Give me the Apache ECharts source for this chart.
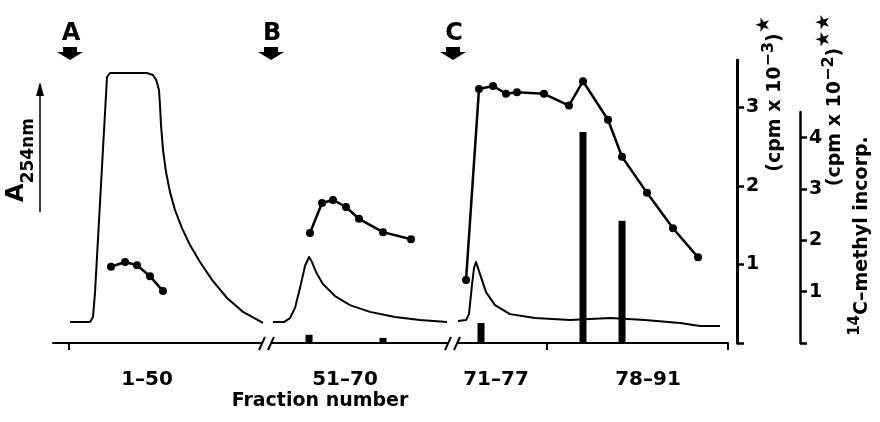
<!DOCTYPE html>
<html>
<head>
<meta charset="utf-8">
<script src="https://cdn.jsdelivr.net/npm/echarts@6/dist/echarts.min.js"></script>
<style>
   html, body { margin: 0; padding: 0; background: #fff; }
   #chart { width: 880px; height: 422px; }
</style>
</head>
<body>
<div id="chart"></div>
<script>

// x is the position along the drawn fraction axis (0..100, axis broken twice)
// A254 trace, relative absorbance (null = gap at an axis break)
const tracePos = [
   2.52, 5.48, 5.93, 6.22, 8.0, 8.44, 13.9, 14.8, 15.3, 15.70, 15.85, 16.0,
   16.30, 16.74, 17.33, 18.07, 19.11, 20.30, 21.78, 23.56, 25.78, 28.15, 31.11,
   31.7,
   32.59, 34.22, 35.11, 35.85, 36.59, 37.33, 37.93, 38.37, 38.96, 40.0, 41.78,
   44.0, 46.96, 50.67, 54.37, 58.37,
   59.26,
   60.0, 61.19, 61.63, 62.07, 62.37, 62.67, 62.96, 63.41, 64.15, 65.48, 67.70,
   71.41, 76.59, 82.52, 87.70, 92.89, 95.85, 98.81
];
const traceA254 = [
   0.074, 0.074, 0.092, 0.177, 0.940, 0.954, 0.954, 0.947, 0.929, 0.894, 0.841, 0.770,
   0.682, 0.604, 0.534, 0.470, 0.406, 0.346, 0.286, 0.223, 0.159, 0.110, 0.071,
   null,
   0.074, 0.074, 0.088, 0.124, 0.194, 0.272, 0.304, 0.286, 0.251, 0.208, 0.166,
   0.134, 0.110, 0.092, 0.081, 0.074,
   null,
   0.078, 0.081, 0.102, 0.205, 0.265, 0.286, 0.279, 0.233, 0.180, 0.134, 0.102,
   0.088, 0.081, 0.088, 0.081, 0.071, 0.060, 0.060
];

// radioactivity, cpm x 10^-3
const countPos = [
   8.59, 10.67, 12.44, 14.37, 16.30,
   31.7,
   38.07, 39.85, 41.48, 43.41, 45.33, 48.89, 53.04,
   59.26,
   61.19, 63.11, 65.19, 67.11, 68.74, 72.74, 76.44, 78.52, 82.22, 84.30, 88.0, 91.85, 95.56
];
const countVal = [
   0.97, 1.03, 0.99, 0.85, 0.66,
   null,
   1.40, 1.78, 1.82, 1.73, 1.58, 1.41, 1.32,
   null,
   0.80, 3.23, 3.27, 3.17, 3.19, 3.17, 3.02, 3.33, 2.84, 2.37, 1.91, 1.46, 1.09
];

// 14C-methyl incorporation, cpm x 10^-2
const methylPos = [37.93, 48.89, 63.41, 78.52, 84.30];
const methylVal = [0.16, 0.10, 0.39, 4.11, 2.38];

// fraction axis
const fractionLabels = ['1\u201350', '51\u201370', '71\u201377', '78\u201391'];
const fractionLabelPos = [13.93, 43.26, 65.63, 88.15];
const fractionTickPos = [2.37, 73.19, 100];
const breakPos = [31.7, 59.26];

// sample application arrows
const arrowLabels = ['A', 'B', 'C'];
const arrowPos = [2.52, 32.3, 59.26];

const countTicks = [0, 1, 2, 3];
const methylTicks = [0, 1, 2, 3, 4];

const FONT = '"DejaVu Sans", "Liberation Sans", sans-serif';
const INK = '#000';


function pairs(xs, ys)
{
   return xs.map((x, i) => [x, ys[i]]);
}


// rotated (bottom-to-top) title built from pieces; dy < 0 raises a piece
const measureCtx = document.createElement('canvas').getContext('2d');
function verticalTitle(x, y, pieces)
{
   const widths = pieces.map((p) =>
   {
      measureCtx.font = 'bold ' + p.size + 'px ' + FONT;
      return measureCtx.measureText(p.text).width;
   });
   const total = widths.reduce((a, b) => a + b, 0);
   let cx = -total / 2;
   const children = pieces.map((p, i) =>
   {
      const t = {
         type: 'text', x: cx, y: p.dy,
         style: { text: p.text, font: 'bold ' + p.size + 'px ' + FONT, fill: INK,
                  align: 'left', verticalAlign: 'bottom' }
      };
      cx += widths[i];
      return t;
   });
   return { type: 'group', x: x, y: y, rotation: Math.PI / 2, children: children };
}


function renderBreak(params, api)
{
   const p = api.coord([api.value(0), 0]);
   const x = p[0], y = p[1];
   return {
      type: 'group',
      children: [
         { type: 'rect', shape: { x: x - 4, y: y - 3, width: 8, height: 6 },
           style: { fill: '#fff' } },
         { type: 'line', shape: { x1: x - 8, y1: y + 7, x2: x - 2, y2: y - 6 },
           style: { stroke: INK, lineWidth: 2 } },
         { type: 'line', shape: { x1: x + 1, y1: y + 7, x2: x + 7, y2: y - 6 },
           style: { stroke: INK, lineWidth: 2 } }
      ]
   };
}


function renderArrow(params, api)
{
   const x = api.coord([api.value(0), 0])[0];
   const top = params.coordSys.y;
   const label = arrowLabels[api.value(2)];
   return {
      type: 'group',
      children: [
         { type: 'polygon',
           shape: { points: [
              [x - 7, top - 13], [x + 7, top - 13], [x + 7, top - 8], [x + 13, top - 8],
              [x, top], [x - 13, top - 8], [x - 7, top - 8] ] },
           style: { fill: INK } },
         { type: 'text',
           style: { x: x + 1, y: top - 26, text: label, fill: INK,
                    font: 'bold 24px ' + FONT, align: 'center', verticalAlign: 'middle' } }
      ]
   };
}


const chart = echarts.init(document.getElementById('chart'));

const option =
{
   animation: false,
   backgroundColor: '#fff',
   grid:
   [
      { left: 53, right: 152, top: 60, bottom: 79 },
      { left: 53, right: 152, top: 112, bottom: 79 }
   ],
   xAxis:
   [
      {
         gridIndex: 0, type: 'value', min: 0, max: 100,
         axisLine: { onZero: false, lineStyle: { color: INK, width: 2 } },
         axisTick: { customValues: fractionTickPos, length: 7, lineStyle: { color: INK, width: 2 } },
         axisLabel:
         {
            customValues: fractionLabelPos,
            margin: 27,
            fontSize: 20, fontWeight: 'bold', fontFamily: FONT, color: INK,
            formatter: (v) => fractionLabels[fractionLabelPos.indexOf(v)] || ''
         },
         splitLine: { show: false }
      },
      { gridIndex: 1, type: 'value', min: 0, max: 100, show: false }
   ],
   yAxis:
   [
      { gridIndex: 0, type: 'value', min: 0, max: 1, show: false },
      {
         gridIndex: 0, type: 'value', position: 'right', offset: 9, min: 0, max: 3.6,
         axisLine: { show: true, onZero: false, lineStyle: { color: INK, width: 3 } },
         axisTick: { show: true, customValues: countTicks, length: 7, lineStyle: { color: INK, width: 2.5 } },
         axisLabel:
         {
            customValues: countTicks.slice(1), margin: 9,
            fontSize: 19, fontWeight: 'bold', fontFamily: FONT, color: INK
         },
         splitLine: { show: false }
      },
      {
         gridIndex: 1, type: 'value', position: 'right', offset: 72, min: 0, max: 4.5,
         axisLine: { show: true, onZero: false, lineStyle: { color: INK, width: 2.5 } },
         axisTick: { show: true, customValues: methylTicks, length: 7, lineStyle: { color: INK, width: 2.5 } },
         axisLabel:
         {
            customValues: methylTicks.slice(1), margin: 9,
            fontSize: 19, fontWeight: 'bold', fontFamily: FONT, color: INK
         },
         splitLine: { show: false }
      }
   ],
   series:
   [
      {
         name: 'A254', type: 'line', xAxisIndex: 0, yAxisIndex: 0,
         data: pairs(tracePos, traceA254),
         showSymbol: false, connectNulls: false,
         lineStyle: { color: INK, width: 2, join: 'round' }
      },
      {
         name: 'cpm', type: 'line', xAxisIndex: 0, yAxisIndex: 1,
         data: pairs(countPos, countVal),
         symbol: 'circle', symbolSize: 8, connectNulls: false,
         itemStyle: { color: INK },
         lineStyle: { color: INK, width: 2.5 }
      },
      {
         name: '14C-methyl', type: 'bar', xAxisIndex: 1, yAxisIndex: 2,
         data: pairs(methylPos, methylVal),
         barWidth: 7,
         itemStyle: { color: INK }
      },
      {
         type: 'custom', xAxisIndex: 0, yAxisIndex: 1, clip: false, z: 5,
         data: breakPos.map((x) => [x, 0]),
         renderItem: renderBreak
      },
      {
         type: 'custom', xAxisIndex: 0, yAxisIndex: 1, clip: false, z: 5,
         data: arrowPos.map((x, i) => [x, 0, i]),
         renderItem: renderArrow
      }
   ],
   graphic:
   [
      // A254nm label with upward arrow
      verticalTitle(29, 160, [
         { text: 'A', size: 24, dy: 0 },
         { text: '254nm', size: 17, dy: 8 }
      ]),
      { type: 'line', shape: { x1: 40, y1: 212, x2: 40, y2: 92 },
        style: { stroke: INK, lineWidth: 1.5 } },
      { type: 'polygon', shape: { points: [[40, 82], [44, 96], [36, 96]] },
        style: { fill: INK } },

      // right axis titles
      verticalTitle(785, 94, [
         { text: '(cpm x 10', size: 19, dy: 0 },
         { text: '\u22123', size: 16, dy: -8 },
         { text: ')', size: 19, dy: 0 },
         { text: '\u2605', size: 19, dy: -11 }
      ]),
      verticalTitle(845, 100, [
         { text: '(cpm x 10', size: 19, dy: 0 },
         { text: '\u22122', size: 16, dy: -8 },
         { text: ')', size: 19, dy: 0 },
         { text: '\u2605\u2605', size: 19, dy: -11 }
      ]),
      verticalTitle(872, 236, [
         { text: '14', size: 15, dy: -9 },
         { text: 'C\u2013methyl incorp.', size: 19, dy: 0 }
      ]),

      // x axis title
      {
         type: 'text', x: 320, y: 401,
         style:
         {
            text: 'Fraction number', align: 'center', verticalAlign: 'middle',
            font: 'bold 19px ' + FONT, fill: INK
         }
      }
   ]
};

chart.setOption(option);

</script>
</body>
</html>
